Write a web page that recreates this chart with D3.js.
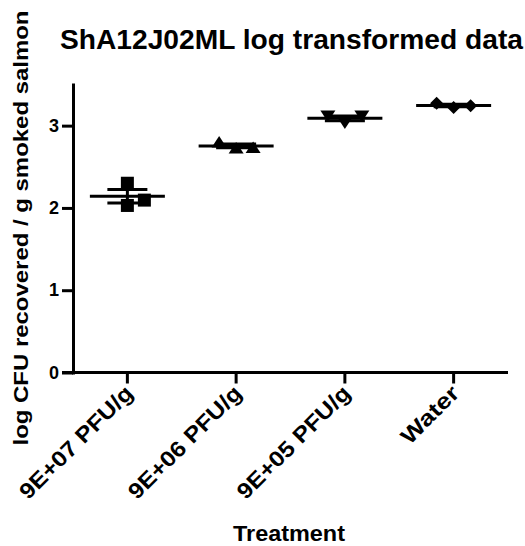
<!DOCTYPE html>
<html>
<head>
<meta charset="utf-8">
<script src="https://cdn.jsdelivr.net/npm/d3@7"></script>
<style>
    body { margin: 0; background: #fff; }
    svg { display: block; font-family: 'Liberation Sans', Arial, sans-serif; font-weight: bold; }
</style>
</head>
<body>
<svg id="chart"></svg>
<script>
// Treatments and log CFU replicates.
const categories = ['9E+07 PFU/g', '9E+06 PFU/g', '9E+05 PFU/g', 'Water'];
const reps_9e07 = [2.30, 2.095, 2.03];
const reps_9e06 = [2.80, 2.728, 2.733];
const reps_9e05 = [3.117, 3.032, 3.117];
const reps_water = [3.271, 3.222, 3.242];
// scatter column of each replicate (GraphPad spreads overlapping points)
const slots_9e07 = [0, 1, 0];
const slots_other = [-1, 0, 1];
const yTicks = [0, 1, 2, 3];
const symbols = ['square', 'triangle', 'triangleDown', 'diamond'];

const groups = [
    {name: categories[0], values: reps_9e07, slots: slots_9e07, symbol: symbols[0]},
    {name: categories[1], values: reps_9e06, slots: slots_other, symbol: symbols[1]},
    {name: categories[2], values: reps_9e05, slots: slots_other, symbol: symbols[2]},
    {name: categories[3], values: reps_water, slots: slots_other, symbol: symbols[3]}
];

const width = 525;
const height = 546;
const margin = {top: 84.5, right: 17, bottom: 173.5, left: 73};

const svg = d3.select('svg#chart')
    .attr('width', width)
    .attr('height', height)
    .attr('viewBox', [0, 0, width, height]);

const x = d3.scaleBand()
    .domain(categories)
    .range([margin.left, width - margin.right]);

const y = d3.scaleLinear()
    .domain([0, 3.5])
    .range([height - margin.bottom, margin.top]);

const cx = name => x(name) + x.bandwidth() / 2;
const slotGap = 17;

// Symbol paths, centred on their box.
function symbolPath(kind) {
    if (kind === 'square') return 'M-6.5,-6.5H6.5V6.5H-6.5Z';
    if (kind === 'triangle') return 'M-7.5,5.5L7.5,5.5L0,-6Z';
    if (kind === 'triangleDown') return 'M-7.5,-5.5L7.5,-5.5L0,6Z';
    return 'M0,-6.5L6.5,0L0,6.5L-6.5,0Z';
}

// Y axis
const yAxis = svg.append('g')
    .attr('transform', `translate(${margin.left},0)`)
    .call(d3.axisLeft(y).tickValues(yTicks).tickFormat(d3.format('d')).tickSize(11).tickSizeOuter(0).tickPadding(3));

yAxis.select('.domain')
    .attr('stroke-width', 3)
    .attr('stroke-linecap', 'square');
yAxis.selectAll('.tick line').attr('stroke-width', 3);
yAxis.selectAll('.tick text')
    .attr('font-size', 18)
    .attr('font-weight', 'bold')
    .attr('font-family', "'Liberation Sans', Arial, sans-serif")
    .attr('fill', '#000');

// X axis
const xAxis = svg.append('g')
    .attr('transform', `translate(0,${y(0)})`)
    .call(d3.axisBottom(x).tickSize(11).tickSizeOuter(0));

xAxis.select('.domain')
    .attr('stroke-width', 3)
    .attr('d', `M${margin.left - 11},0H${width - margin.right}`);
xAxis.selectAll('.tick line').attr('stroke-width', 3);
xAxis.selectAll('.tick text')
    .attr('x', null).attr('y', null).attr('dy', null)
    .attr('transform', 'translate(7,22) rotate(-45)')
    .attr('text-anchor', 'end')
    .attr('font-size', 22)
    .attr('font-weight', 'bold')
    .attr('font-family', "'Liberation Sans', Arial, sans-serif")
    .attr('fill', '#000')
    .attr('textLength', d => d === 'Water' ? 72 : 150)
    .attr('lengthAdjust', 'spacingAndGlyphs');

// Points, mean and SEM
const grp = svg.append('g')
    .selectAll('g')
    .data(groups)
    .join('g');

grp.selectAll('path.pt')
    .data(g => g.values.map((v, i) => ({v, slot: g.slots[i], symbol: g.symbol, name: g.name})))
    .join('path')
    .attr('class', 'pt')
    .attr('transform', d => `translate(${cx(d.name) + d.slot * slotGap},${y(d.v)})`)
    .attr('d', d => symbolPath(d.symbol))
    .attr('fill', '#000');

grp.each(function(g) {
    const m = d3.mean(g.values);
    const sem = d3.deviation(g.values) / Math.sqrt(g.values.length);
    const c = cx(g.name);
    const sel = d3.select(this);
    sel.append('line')
        .attr('x1', c).attr('x2', c)
        .attr('y1', y(m + sem)).attr('y2', y(m - sem));
    [m + sem, m - sem].forEach(v => {
        sel.append('line')
            .attr('x1', c - 20).attr('x2', c + 20)
            .attr('y1', y(v)).attr('y2', y(v));
    });
    sel.append('line')
        .attr('x1', c - 37.5).attr('x2', c + 37.5)
        .attr('y1', y(m)).attr('y2', y(m));
    sel.selectAll('line')
        .attr('stroke', '#000')
        .attr('stroke-width', 3);
});

// Titles
svg.append('text')
    .attr('x', 60)
    .attr('y', 49)
    .attr('font-size', 27)
    .attr('textLength', 463)
    .attr('lengthAdjust', 'spacingAndGlyphs')
    .text('ShA12J02ML log transformed data');

svg.append('text')
    .attr('transform', 'translate(28,228) rotate(-90)')
    .attr('text-anchor', 'middle')
    .attr('font-size', 21)
    .attr('textLength', 435)
    .attr('lengthAdjust', 'spacingAndGlyphs')
    .text('log CFU recovered / g smoked salmon');

svg.append('text')
    .attr('x', 289)
    .attr('y', 541)
    .attr('text-anchor', 'middle')
    .attr('font-size', 22)
    .attr('textLength', 112)
    .attr('lengthAdjust', 'spacingAndGlyphs')
    .text('Treatment');
</script>
</body>
</html>
